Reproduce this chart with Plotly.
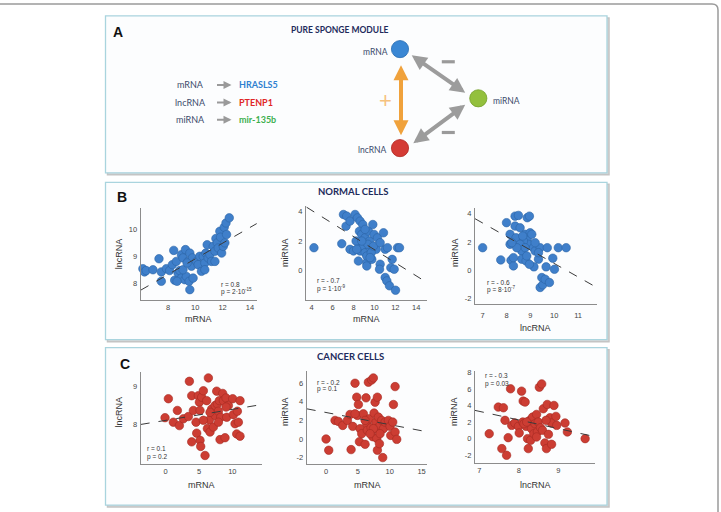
import plotly.graph_objects as go

W, H = 721, 512

# ---------------- data ----------------
# B – normal cells
normal_mrna_1 = [6.16, 6.28, 6.40, 6.90, 7.34, 7.51, 7.51, 7.88, 8.12, 8.32, 8.42, 8.49, 8.61, 8.74, 8.86, 8.98, 8.98,
                 9.10, 9.23, 9.28, 9.35, 9.47, 9.55, 9.60, 9.60, 9.72, 9.79, 9.84, 10.09, 10.21, 10.33, 10.45, 10.58,
                 10.70, 10.77, 10.87, 10.94, 11.07, 11.19, 11.31, 11.44, 11.51, 11.61, 11.68, 11.80, 11.85, 11.93,
                 12.05, 12.12, 12.25, 12.29, 12.17, 12.49, 11.44, 10.70, 9.10, 9.40, 8.66]
normal_lnc_1 = [8.54, 8.42, 8.47, 8.50, 8.91, 8.42, 8.07, 8.54, 8.47, 8.69, 9.22, 8.11, 8.81, 8.38, 8.47, 9.06, 8.19,
                8.94, 8.13, 9.25, 8.25, 8.81, 8.07, 9.12, 7.76, 8.63, 8.94, 8.19, 8.81, 8.69, 9.00, 8.44, 9.00, 8.75,
                9.12, 9.43, 8.94, 9.06, 8.81, 9.37, 9.19, 9.66, 9.50, 9.31, 9.93, 9.71, 9.12, 9.37, 10.08, 10.24,
                9.81, 9.50, 10.43, 8.81, 8.50, 8.50, 8.75, 8.07]

normal_mrna_2 = [4.22, 6.88, 7.04, 7.35, 7.29, 7.67, 7.67, 8.15, 8.38, 8.63, 8.89, 8.57, 8.47, 8.63, 8.47, 8.79, 8.95,
                 9.11, 9.11, 9.27, 9.27, 9.43, 9.53, 9.59, 9.75, 9.85, 9.97, 10.17, 10.29, 10.55, 10.49, 10.87, 11.03,
                 11.03, 11.19, 11.25, 11.44, 11.57, 11.70, 11.89, 12.02, 12.21, 12.40, 8.00, 8.25, 8.31, 9.27, 9.69,
                 9.37, 8.79, 9.91, 9.59, 9.11, 10.55]
normal_mir_2 = [1.55, 1.82, 3.80, 3.69, 3.01, 3.35, 1.44, 3.80, 3.57, 3.35, 3.12, 2.67, 1.89, 1.33, 0.65, 2.45, 1.66,
                1.21, 2.22, 0.54, 0.31, 2.67, 2.00, 1.55, 0.76, 3.12, 2.45, 1.44, 2.22, 0.43, 0.09, 2.56, 1.44, -0.47,
                -0.70, 1.55, -1.03, 0.20, 0.76, 0.09, -1.33, 1.55, 1.55, 1.33, 2.00, 1.44, 0.99, 1.21, 1.78, 2.00,
                1.66, 0.88, 2.79, 1.89]

normal_lnc_3 = [7.00, 7.76, 8.00, 8.19, 8.29, 8.15, 8.15, 8.36, 8.50, 8.36, 8.57, 8.40, 8.50, 8.64, 8.64, 8.78, 8.82,
                8.87, 8.96, 8.87, 8.92, 8.99, 9.06, 9.13, 9.20, 9.15, 8.96, 9.41, 9.34, 9.41, 9.52, 9.48, 9.62, 9.66,
                9.71, 9.80, 9.94, 10.01, 10.17, 10.50, 8.71, 8.57, 8.78, 8.43, 9.20, 8.68, 9.34, 8.22, 8.29, 8.85]
normal_mir_3 = [1.60, 0.74, 3.36, 0.71, 0.32, 2.54, 1.84, 3.82, 3.87, 3.12, 3.00, 2.30, 1.72, 1.37, 0.79, 2.54, 0.67,
                3.71, 3.82, 2.19, 1.84, 2.65, 2.54, 1.60, 1.37, 0.25, 0.43, 1.60, 0.79, -1.20, -1.01, -0.50, -0.62,
                0.25, 1.60, -0.85, 0.86, 0.08, 1.60, 1.60, 2.07, 1.84, 1.60, 1.60, 1.95, 2.42, 1.25, 1.95, 0.90, 1.02]

# C – cancer cells
cancer_mrna_1 = [-0.10, 0.40, 1.15, 1.75, 2.05, 2.65, 3.40, 3.55, 3.90, 3.90, 4.15, 4.55, 4.65, 4.90, 5.05, 5.15, 5.15,
                 5.25, 5.40, 5.65, 5.90, 6.15, 6.25, 6.40, 6.55, 6.65, 6.90, 7.15, 7.40, 7.40, 7.65, 7.75, 7.90, 8.05,
                 8.15, 8.25, 8.55, 8.65, 8.90, 9.05, 9.15, 9.40, 10.05, 10.15, 10.40, 10.65, 10.75, 10.90, 11.15, 11.15,
                 9.05, 6.65, 7.90, 5.65]
cancer_lnc_1 = [8.18, 8.68, 8.06, 8.37, 7.97, 8.15, 8.21, 9.14, 8.76, 7.54, 8.37, 8.06, 7.77, 8.76, 8.59, 8.37, 7.58,
                7.42, 8.72, 8.89, 7.18, 8.63, 7.89, 9.23, 8.12, 7.80, 8.41, 7.93, 8.50, 8.24, 8.88, 8.54, 8.35, 8.63,
                7.60, 8.19, 8.82, 8.63, 7.65, 8.70, 8.19, 8.50, 8.68, 8.26, 8.02, 7.75, 8.35, 8.06, 8.63, 7.69,
                8.46, 8.32, 8.06, 8.11]

cancer_mrna_2 = [0.00, 0.42, 1.41, 1.94, 2.62, 3.35, 3.77, 3.93, 4.19, 4.55, 4.82, 5.08, 4.92, 5.24, 5.34, 5.60, 5.86,
                 6.13, 6.28, 6.39, 6.49, 6.65, 6.81, 7.07, 7.17, 7.33, 7.43, 7.54, 7.70, 7.85, 7.96, 8.06, 7.96, 8.06,
                 8.22, 8.38, 8.48, 8.74, 8.90, 9.01, 9.27, 9.79, 10.05, 10.16, 10.47, 10.58, 10.84, 10.84, 11.10, 7.43,
                 6.13, 4.55, 8.48, 6.91]
cancer_mir_2 = [0.00, -1.21, 2.00, 1.89, 1.46, 2.00, 2.64, -1.14, 1.36, 6.00, 4.50, 3.71, 2.54, -0.29, 1.11, 0.57, 2.71,
                -0.57, 4.43, 1.64, 0.93, 6.11, 2.18, 1.21, 6.36, 0.25, 6.57, 2.79, 3.96, 1.82, 1.11, 4.50, 0.07, -1.21,
                2.36, -0.50, 1.46, 2.00, -2.00, 1.11, 1.82, 2.00, 1.36, 0.39, 1.82, 3.71, 5.64, 0.75, -0.04, 1.11,
                2.00, 2.71, 0.57, 0.57]

cancer_lnc_3 = [7.25, 7.48, 7.61, 7.57, 7.65, 7.69, 7.73, 7.79, 7.82, 7.90, 7.99, 8.01, 8.07, 8.10, 8.11, 8.16, 8.18,
                8.22, 8.24, 8.28, 8.30, 8.32, 8.35, 8.38, 8.41, 8.45, 8.47, 8.49, 8.52, 8.55, 8.58, 8.60, 8.62, 8.66,
                8.70, 8.72, 8.75, 8.79, 8.83, 8.83, 8.89, 8.94, 8.96, 9.17, 9.23, 9.68, 8.13, 8.20, 8.45, 8.69]
cancer_mir_3 = [0.60, 3.83, 3.75, -1.21, 2.22, -2.02, 0.12, 6.05, 1.61, 1.90, 1.49, 0.69, 5.77, 2.02, 4.56, 4.44, 1.49,
                0.00, -1.21, 2.22, -0.20, 1.21, 2.62, 0.60, 1.81, 2.94, 0.81, 2.02, 6.25, 1.33, 6.65, 1.01, 3.63,
                -0.52, -1.21, 4.15, 0.52, 2.54, 1.90, -0.69, 4.03, 2.70, 1.61, 1.90, 0.81, 0.00, 1.81, 2.02, 0.20, 2.22]

# regression (dashed) line end points
fit_n1_x, fit_n1_y = [6.0, 14.96], [7.74, 10.35]
fit_n2_x, fit_n2_y = [3.52, 15.18], [4.29, -0.88]
fit_n3_x, fit_n3_y = [6.68, 11.78], [3.64, -1.20]
fit_c1_x, fit_c1_y = [-3.75, 14.55], [8.00, 8.53]
fit_c2_x, fit_c2_y = [-3.04, 16.07], [3.25, 0.75]
fit_c3_x, fit_c3_y = [6.89, 9.97], [3.43, 0.20]

# tick values / labels
ticks_n1_x, ticks_n1_y = [8, 10, 12, 14], [8, 9, 10]
ticks_n2_x, ticks_n2_y = [4, 6, 8, 10, 12, 14], [0, 2, 4]
ticks_n3_x, ticks_n3_y = [7, 8, 9, 10, 11], [-2, 0, 2, 4]
ticks_c1_x, ticks_c1_y = [0, 5, 10], [8, 9]
ticks_c2_x, ticks_c2_y = [0, 5, 10, 15], [-2, 0, 2, 4, 6]
ticks_c3_x, ticks_c3_y = [7, 8, 9], [-2, 0, 2, 4, 6, 8]

stats_r = ["r = 0.8", "r = - 0.7", "r = - 0.6", "r = 0.1", "r = - 0.2", "r = - 0.3"]
stats_p = ["p = 2·10<sup>-15</sup>", "p = 1·10<sup>-9</sup>", "p = 8·10<sup>-7</sup>",
           "p = 0.2", "p = 0.1", "p = 0.03"]

module_genes = ["HRASLS5", "PTENP1", "mir-135b"]
module_types = ["mRNA", "lncRNA", "miRNA"]

# ---------------- styling / layout ----------------
BLUE, BLUE_EDGE = "#3f7fca", "#2c64a6"
RED, RED_EDGE = "#cc3d33", "#a52a22"
AX = "#8c8c8c"
TXT = "#444444"
NAVY = "#1d2b5c"
FONT = "Liberation Sans, Arial, sans-serif"
FONT2 = "Lato, Open Sans, sans-serif"


def fx(p):
    return p / W


def fy(p):
    return 1 - p / H


def fmt(v):
    return str(v)


panels = [
    dict(x=normal_mrna_1, y=normal_lnc_1, fx=fit_n1_x, fy=fit_n1_y, c=BLUE, e=BLUE_EDGE, xl="mRNA", yl="lncRNA",
         xt=ticks_n1_x, yt=ticks_n1_y, xr=[6.0, 14.5], yr=[7.37, 10.8], box=[140.7, 256.7, 206.7, 299.3],
         gap=0, xtp=(198.7, 318), ytp=(119.3, 253), st=(219, 284, 290.5)),
    dict(x=normal_mrna_2, y=normal_mir_2, fx=fit_n2_x, fy=fit_n2_y, c=BLUE, e=BLUE_EDGE, xl="mRNA", yl="miRNA",
         xt=ticks_n2_x, yt=ticks_n2_y, xr=[3.46, 15.0], yr=[-1.98, 4.36], box=[306, 426.7, 205, 299],
         gap=0, xtp=(366, 318), ytp=(285, 252), st=(315, 280, 287.5)),
    dict(x=normal_lnc_3, y=normal_mir_3, fx=fit_n3_x, fy=fit_n3_y, c=BLUE, e=BLUE_EDGE, xl="lncRNA", yl="miRNA",
         xt=ticks_n3_x, yt=ticks_n3_y, xr=[6.68, 11.78], yr=[-2.37, 4.4], box=[475, 596.7, 206.7, 303.3],
         gap=4, xtp=(535.8, 327.5), ytp=(455, 252), st=(485, 281.7, 288.5)),
    dict(x=cancer_mrna_1, y=cancer_lnc_1, fx=fit_c1_x, fy=fit_c1_y, c=RED, e=RED_EDGE, xl="mRNA", yl="lncRNA",
         xt=ticks_c1_x, yt=ticks_c1_y, xr=[-3.75, 14.4], yr=[6.95, 9.38], box=[140.7, 261.7, 371.7, 464],
         gap=0, xtp=(201, 485), ytp=(119.3, 411.7), st=(145, 448, 456.5)),
    dict(x=cancer_mrna_2, y=cancer_mir_2, fx=fit_c2_x, fy=fit_c2_y, c=RED, e=RED_EDGE, xl="mRNA", yl="miRNA",
         xt=ticks_c2_x, yt=ticks_c2_y, xr=[-3.04, 15.9], yr=[-2.71, 7.29], box=[306.7, 427.3, 370.7, 464],
         gap=0, xtp=(367, 484.5), ytp=(285, 411.7), st=(315, 381.7, 389)),
    dict(x=cancer_lnc_3, y=cancer_mir_3, fx=fit_c3_x, fy=fit_c3_y, c=RED, e=RED_EDGE, xl="lncRNA", yl="miRNA",
         xt=ticks_c3_x, yt=ticks_c3_y, xr=[6.89, 9.93], yr=[-3.02, 8.27], box=[475, 595, 370, 463.3],
         gap=0, xtp=(535, 484.5), ytp=(454, 411.7), st=(482.7, 375, 383.3)),
]

fig = go.Figure()
annotations = []
shapes = []
layout_axes = {}

# ---------- panel boxes & outer frame ----------
for (l, r, t, b) in [(105.5, 607, 14, 171.5), (105.5, 607, 181, 339), (105.5, 607, 347, 505)]:
    shapes.append(dict(type="rect", xref="paper", yref="paper", x0=fx(l + 2), x1=fx(r + 2), y0=fy(b + 2), y1=fy(t + 2),
                       line=dict(color="#c4c4c4", width=1.5), fillcolor="#d8d8d8", layer="below"))
    shapes.append(dict(type="rect", xref="paper", yref="paper", x0=fx(l), x1=fx(r), y0=fy(b), y1=fy(t),
                       line=dict(color="#a9d4de", width=1.3), fillcolor="#fcfdfe", layer="below"))

shapes.append(dict(type="path", xref="paper", yref="paper", layer="below",
                   path=f"M {fx(-2)},{fy(2)} L {fx(712)},{fy(2)} Q {fx(718)},{fy(2)} {fx(718)},{fy(8)} L {fx(718)},{fy(514)}",
                   line=dict(color="#9a9a9a", width=1.5)))

# ---------- scatter panels ----------
for i, P in enumerate(panels, start=1):
    sx = "" if i == 1 else str(i)
    xa, ya = "x" + sx, "y" + sx
    fig.add_trace(go.Scatter(x=P["x"], y=P["y"], mode="markers", xaxis=xa, yaxis=ya, showlegend=False,
                             cliponaxis=False, hoverinfo="skip",
                             marker=dict(size=8.5, color=P["c"], line=dict(color=P["e"], width=0.6))))
    fig.add_trace(go.Scatter(x=P["fx"], y=P["fy"], mode="lines", xaxis=xa, yaxis=ya, showlegend=False,
                             hoverinfo="skip", line=dict(color="#3a3a3a", width=1, dash="dash")))
    l, r, t, b = P["box"]
    common = dict(showline=True, linecolor=AX, linewidth=1, showgrid=False, zeroline=False, fixedrange=True,
                  tickfont=dict(family=FONT, size=7.5, color=TXT))
    xticks = dict(ticks="outside", ticklen=P["gap"], tickcolor="rgba(0,0,0,0)") if P["gap"] else dict(ticks="")
    layout_axes["xaxis" + sx] = dict(domain=[fx(l), fx(r)], range=P["xr"], anchor=ya,
                                     tickvals=P["xt"], ticktext=[fmt(v) for v in P["xt"]], **xticks, **common)
    layout_axes["yaxis" + sx] = dict(domain=[fy(b), fy(t)], range=P["yr"], anchor=xa, ticks="outside",
                                     ticklen=1, tickcolor="rgba(0,0,0,0)",
                                     tickvals=P["yt"], ticktext=[fmt(v) for v in P["yt"]], **common)
    # axis titles
    annotations.append(dict(xref="paper", yref="paper", x=fx(P["xtp"][0]), y=fy(P["xtp"][1]), text=P["xl"],
                            showarrow=False, xanchor="center", yanchor="middle",
                            font=dict(family=FONT, size=9, color="#333")))
    annotations.append(dict(xref="paper", yref="paper", x=fx(P["ytp"][0]), y=fy(P["ytp"][1]), text=P["yl"],
                            showarrow=False, xanchor="center", yanchor="middle", textangle=-90,
                            font=dict(family=FONT, size=9, color="#333")))
    sxp, sry, spy = P["st"]
    annotations.append(dict(xref="paper", yref="paper", x=fx(sxp), y=fy(sry), text=stats_r[i - 1],
                            showarrow=False, xanchor="left", yanchor="middle",
                            font=dict(family=FONT, size=6.5, color="#333")))
    annotations.append(dict(xref="paper", yref="paper", x=fx(sxp), y=fy(spy), text=stats_p[i - 1],
                            showarrow=False, xanchor="left", yanchor="middle",
                            font=dict(family=FONT, size=6.5, color="#333")))

# ---------- titles and panel letters ----------
for letter, (lx, ly) in zip(["A", "B", "C"], [(118, 30), (121.5, 196), (125, 363)]):
    annotations.append(dict(xref="paper", yref="paper", x=fx(lx), y=fy(ly), text=f"<b>{letter}</b>",
                            showarrow=False, xanchor="center", yanchor="middle",
                            font=dict(family=FONT, size=14, color="#111")))
for title, (tx, ty), sz in [("PURE SPONGE MODULE", (340, 27.7), 8.5), ("NORMAL CELLS", (352.7, 190.7), 9.5),
                            ("CANCER CELLS", (350, 356), 9.5)]:
    annotations.append(dict(xref="paper", yref="paper", x=fx(tx), y=fy(ty), text=f"<b>{title}</b>",
                            showarrow=False, xanchor="center", yanchor="middle",
                            font=dict(family=FONT2, size=sz, color=NAVY)))

# ---------- panel A diagram ----------
gene_colors = ["#2f7fd0", "#e02626", "#3cb04e"]
for k, (typ, gene, gc) in enumerate(zip(module_types, module_genes, gene_colors)):
    yy = [83.3, 101, 118.3][k]
    annotations.append(dict(xref="paper", yref="paper", x=fx(190), y=fy(yy), text=typ, showarrow=False,
                            xanchor="center", yanchor="middle", font=dict(family=FONT2, size=9, color="#3b4a6b")))
    annotations.append(dict(xref="paper", yref="paper", x=fx(236.5), y=fy(yy), text=f"<b>{gene}</b>",
                            showarrow=False, xanchor="left", yanchor="middle",
                            font=dict(family=FONT2, size=9, color=gc)))
    annotations.append(dict(xref="paper", yref="paper", x=fx(231.5), y=fy(yy), ax=-16, ay=0, text="",
                            showarrow=True, arrowhead=2, arrowsize=0.8, arrowwidth=2, arrowcolor="#9a9a9a",
                            standoff=0, startstandoff=0))

nodes = [("mRNA", (400, 47.3), "#3a87d4", "#2a6db3", (375, 50)),
         ("miRNA", (478.3, 96.7), "#93c03d", "#74a02a", (506.7, 99)),
         ("lncRNA", (400, 146.7), "#d43b35", "#b02a25", (372.7, 148.3))]
for name, (cx, cy), fc, lc, (tx, ty) in nodes:
    rr = 8.6
    shapes.append(dict(type="circle", xref="paper", yref="paper", x0=fx(cx - rr), x1=fx(cx + rr),
                       y0=fy(cy + rr), y1=fy(cy - rr), fillcolor=fc, line=dict(color=lc, width=0.8)))
    annotations.append(dict(xref="paper", yref="paper", x=fx(tx), y=fy(ty), text=name, showarrow=False,
                            xanchor="center", yanchor="middle", font=dict(family=FONT2, size=8.5, color="#3b4a6b")))

# double arrows
for (hx, hy, dx, dy, col) in [(401, 63.5, 0, 71.5, "#f0a23c"),
                              (411.7, 53.5, 55, 38.4, "#9c9c9c"),
                              (413.3, 141.7, 53.4, -39.4, "#9c9c9c")]:
    annotations.append(dict(xref="paper", yref="paper", x=fx(hx), y=fy(hy), ax=dx, ay=dy, text="",
                            showarrow=True, arrowhead=2, arrowside="end+start", arrowsize=0.75, arrowwidth=4,
                            arrowcolor=col, standoff=0, startstandoff=0))

# minus signs and plus sign
for (mx, my) in [(448.3, 60), (448.3, 131)]:
    shapes.append(dict(type="rect", xref="paper", yref="paper", x0=fx(mx - 6.5), x1=fx(mx + 6.5),
                       y0=fy(my + 1.6), y1=fy(my - 1.6), fillcolor="#9a9a9a", line=dict(width=0)))
annotations.append(dict(xref="paper", yref="paper", x=fx(385), y=fy(98.5), text="+", showarrow=False,
                        xanchor="center", yanchor="middle", font=dict(family=FONT, size=22, color="#f6c27e")))

fig.update_layout(width=W, height=H, margin=dict(l=0, r=0, t=0, b=0), paper_bgcolor="white",
                  plot_bgcolor="rgba(0,0,0,0)", shapes=shapes, annotations=annotations, **layout_axes)

fig.write_html("out.html")
